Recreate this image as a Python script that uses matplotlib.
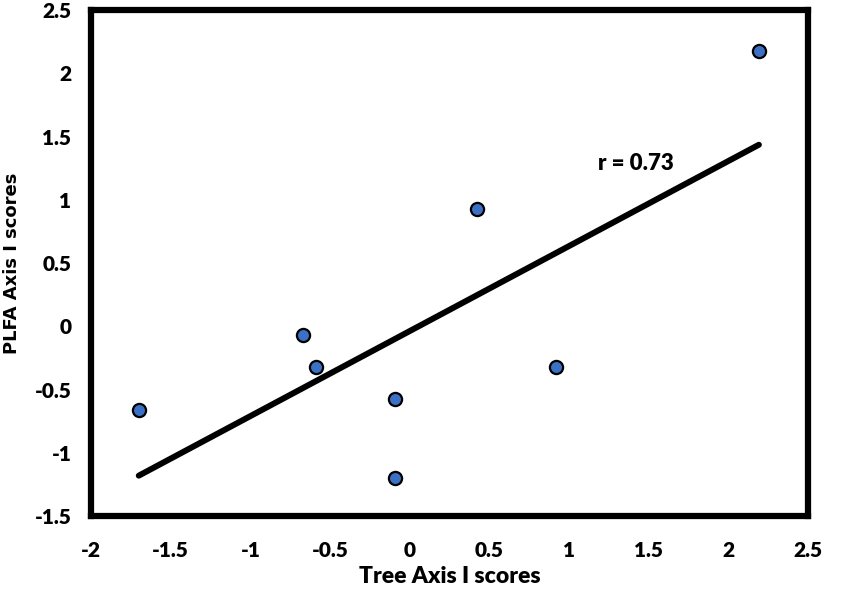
import numpy as np
import matplotlib
matplotlib.use('Agg')
import matplotlib.pyplot as plt

# scores
tree_scores = [-1.70, -0.67, -0.59, -0.09, -0.09, 0.42, 0.92, 2.19]
plfa_scores = [-0.66, -0.07, -0.32, -0.57, -1.20, 0.93, -0.32, 2.18]
x_ticks = [-2, -1.5, -1, -0.5, 0, 0.5, 1, 1.5, 2, 2.5]
y_ticks = [-1.5, -1, -0.5, 0, 0.5, 1, 1.5, 2, 2.5]
r_label = 'r = 0.73'

fig = plt.figure(figsize=(8.42, 5.92), dpi=100)
ax = fig.add_axes([0.108, 0.128, 0.852, 0.855])

x = np.array(tree_scores)
y = np.array(plfa_scores)

# trend line
k, b = np.polyfit(x, y, 1)
xl = np.array([x.min(), x.max()])
ax.plot(xl, k * xl + b, color='black', lw=4.3, solid_capstyle='round', zorder=2)

ax.scatter(x, y, s=90, color='#3B70C4', edgecolor='black', linewidth=1.6, zorder=3)

ax.text(1.42, 1.29, r_label, fontsize=16, fontweight='heavy', family='Lato',
        ha='center', va='center')

ax.set_xlim(-2, 2.5)
ax.set_ylim(-1.5, 2.5)
ax.set_xticks(x_ticks)
ax.set_yticks(y_ticks)
ax.set_xticklabels([f'{v:g}' for v in x_ticks])
ax.set_yticklabels([f'{v:g}' for v in y_ticks])
ax.tick_params(length=0, labelsize=15)
ax.tick_params(axis='x', pad=18)
ax.tick_params(axis='y', pad=14)
for lab in ax.get_xticklabels() + ax.get_yticklabels():
    lab.set_family('Lato')
    lab.set_fontweight('heavy')

for sp in ax.spines.values():
    sp.set_linewidth(4.5)
    sp.set_color('black')

ax.set_xlabel('Tree Axis I scores', fontsize=16.5, fontweight='heavy', family='Lato', labelpad=4)
ax.set_ylabel('PLFA Axis I scores', fontsize=13, fontweight='bold', family='DejaVu Sans', labelpad=10)

fig.savefig('out.png', dpi=100)
